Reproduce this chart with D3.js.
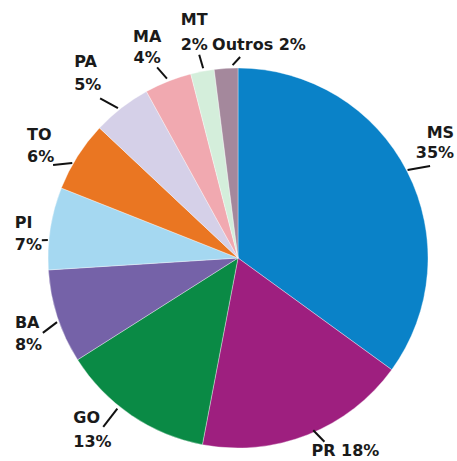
<!DOCTYPE html>
<html>
<head>
<meta charset="utf-8">
<script src="https://cdn.jsdelivr.net/npm/d3@7"></script>
<style>
    body { margin: 0; background: #fff; }
    .pie-label { font-family: "DejaVu Sans", sans-serif; font-weight: bold; font-size: 16px; fill: #1a1a1a; }
</style>
</head>
<body>
<div id="chart"></div>
<script>
// values
const states = ["MS", "PR", "GO", "BA", "PI", "TO", "PA", "MA", "MT", "Outros"];
const shares = [35, 18, 13, 8, 7, 6, 5, 4, 2, 2];
const sliceColors = ["#0a82c8", "#9e1f7f", "#0a8a45", "#7562a8", "#a5d8f1",
                     "#ea7622", "#d5d0e8", "#f1a9b0", "#d4eedb", "#a4889c"];

// label placement (leader angles relative to slice middle, in degrees; text offset from leader end)
const labelLayout = [
    { a0: -0.4, a1: 1.4, r0: 1, r1: 23, dx: 24, dy: -28, gap: 20, anchor: "end", oneLine: false },
    { a0: -2, a1: -3.6, r0: -2, r1: 13, dx: -13, dy: 14, gap: 0, anchor: "start", oneLine: true },
    { a0: 4.5, a1: 4.4, r0: 3, r1: 26, dx: -30, dy: -4, gap: 24, anchor: "start", oneLine: false },
    { a0: -1.5, a1: -3, r0: 2, r1: 19, dx: -28, dy: -5, gap: 22, anchor: "start", oneLine: false },
    { a0: -3.6, a1: -3.8, r0: 1, r1: 7, dx: -27, dy: -12, gap: 22, anchor: "start", oneLine: false },
    { a0: -2.6, a1: -5.7, r0: 1, r1: 17, dx: -26, dy: -25, gap: 22, anchor: "start", oneLine: false },
    { a0: -0.9, a1: -3, r0: 2, r1: 21, dx: -26, dy: -31, gap: 23, anchor: "start", oneLine: false },
    { a0: 0, a1: -1.4, r0: 3, r1: 17, dx: -10, dy: -25, gap: 21, anchor: "middle", oneLine: false },
    { a0: 0.4, a1: 0, r0: 3, r1: 17, dx: -5, dy: -30, gap: 25, anchor: "middle", oneLine: false },
    { a0: 2, a1: 4.2, r0: 3, r1: 11, dx: -28, dy: -7, gap: 0, anchor: "start", oneLine: true }
];

const width = 457, height = 461;
const cx = 238, cy = 258, radius = 190;

const svg = d3.select("#chart").append("svg")
    .attr("width", width)
    .attr("height", height);

const g = svg.append("g")
    .attr("transform", `translate(${cx},${cy})`);

const data = states.map((s, i) => ({ state: s, share: shares[i], color: sliceColors[i], layout: labelLayout[i] }));

const pie = d3.pie().sort(null).value(d => d.share);
const arc = d3.arc().innerRadius(0).outerRadius(radius);
const arcs = pie(data);

g.selectAll(".slice")
    .data(arcs)
    .enter().append("path")
    .attr("class", "slice")
    .attr("d", arc)
    .attr("fill", d => d.data.color)
    .attr("stroke", "#ffffff")
    .attr("stroke-opacity", 0.35)
    .attr("stroke-width", 1);

// polar point, angle in radians measured clockwise from 12 o'clock
function polar(angle, r) {
    return [r * Math.sin(angle), -r * Math.cos(angle)];
}

const deg = Math.PI / 180;

arcs.forEach(d => {
    let lay = d.data.layout;
    let mid = (d.startAngle + d.endAngle) / 2;
    let p0 = polar(mid + lay.a0 * deg, radius + lay.r0);
    let p1 = polar(mid + lay.a1 * deg, radius + lay.r1);

    g.append("line")
        .attr("x1", p0[0]).attr("y1", p0[1])
        .attr("x2", p1[0]).attr("y2", p1[1])
        .attr("stroke", "#111")
        .attr("stroke-width", 2);

    let text = g.append("text")
        .attr("class", "pie-label")
        .attr("text-anchor", lay.anchor)
        .attr("x", p1[0] + lay.dx)
        .attr("y", p1[1] + lay.dy);

    if (lay.oneLine) {
        text.text(`${d.data.state} ${d.data.share}%`);
    } else {
        text.append("tspan").text(d.data.state);
        text.append("tspan")
            .attr("x", p1[0] + lay.dx)
            .attr("dy", lay.gap)
            .text(`${d.data.share}%`);
    }
});
</script>
</body>
</html>
